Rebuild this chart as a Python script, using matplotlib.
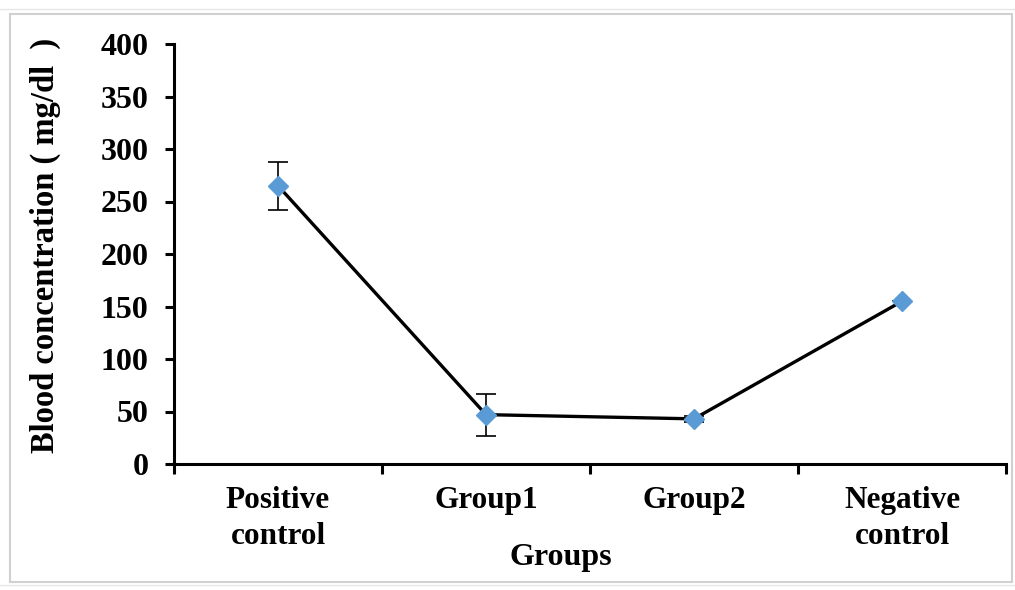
import matplotlib
matplotlib.use("Agg")
import matplotlib.pyplot as plt
from matplotlib.patches import Rectangle
from matplotlib.lines import Line2D
from matplotlib.font_manager import FontProperties

categories = ["Positive\ncontrol", "Group1", "Group2", "Negative\ncontrol"]
values = [265, 47, 43, 155]
errors = [23, 20, 3, 0]
yticks = [0, 50, 100, 150, 200, 250, 300, 350, 400]

W, H = 1015, 590
fig = plt.figure(figsize=(W / 100, H / 100), dpi=100)
fig.patch.set_facecolor("white")

# outer light-gray frame (spreadsheet look)
fig.add_artist(Rectangle((10 / W, 1 - 582 / H), 1002 / W, 568 / H, transform=fig.transFigure,
                         fill=False, edgecolor="#d0d0d0", linewidth=1.5))
fig.add_artist(Line2D([0, 1], [1 - 9 / H, 1 - 9 / H], transform=fig.transFigure, color="#e6e6e6", lw=1))
fig.add_artist(Line2D([0, 1], [1 - 585 / H, 1 - 585 / H], transform=fig.transFigure, color="#e6e6e6", lw=1))

ax = fig.add_axes([174 / W, 1 - 464 / H, 832 / W, 420 / H])
x = list(range(len(categories)))
ax.plot(x, values, color="black", lw=2.4, zorder=2)
ax.errorbar(x, values, yerr=errors, fmt="none", ecolor="black", elinewidth=1.2, capsize=7, capthick=1.2, zorder=3)
ax.plot(x, values, linestyle="none", marker="D", markersize=10, color="#5B9BD5", zorder=4)

ax.set_xlim(-0.5, len(categories) - 0.5)
ax.set_ylim(0, 400)
ax.set_yticks(yticks)
ax.set_xticks([i - 0.5 for i in range(len(categories) + 1)])
ax.set_xticklabels([])
ax.set_xticks(x, minor=True)
ax.set_xticklabels(categories, minor=True)
ax.tick_params(axis="x", which="minor", length=0, pad=16)
ax.tick_params(axis="x", which="major", direction="out", length=7, width=2.2)
ax.tick_params(axis="y", direction="out", length=6.5, width=2.2, pad=12)

tfp = FontProperties(family="Liberation Serif", weight="bold", size=23)
xfp = FontProperties(family="Liberation Serif", weight="bold", size=22.5)
for lab in ax.get_yticklabels():
    lab.set_fontproperties(tfp)
for lab in ax.get_xticklabels(minor=True):
    lab.set_fontproperties(xfp)
    lab.set_linespacing(1.3)

for s in ["top", "right"]:
    ax.spines[s].set_visible(False)
for s in ["left", "bottom"]:
    ax.spines[s].set_linewidth(2.2)

ax.set_xlabel("Groups", fontproperties=FontProperties(family="Liberation Serif", weight="bold", size=23))
ax.xaxis.set_label_coords((561 - 174) / 832, (464 - 558) / 420)
ax.xaxis.label.set_va("center")
ax.set_ylabel("Blood concentration ( mg/dl  )", fontproperties=FontProperties(family="Liberation Serif", weight="bold", size=23.5))
ax.yaxis.set_label_coords((45 - 174) / 832, (464 - 245) / 420)
ax.yaxis.label.set_va("center")

fig.savefig("out.png", dpi=100)
